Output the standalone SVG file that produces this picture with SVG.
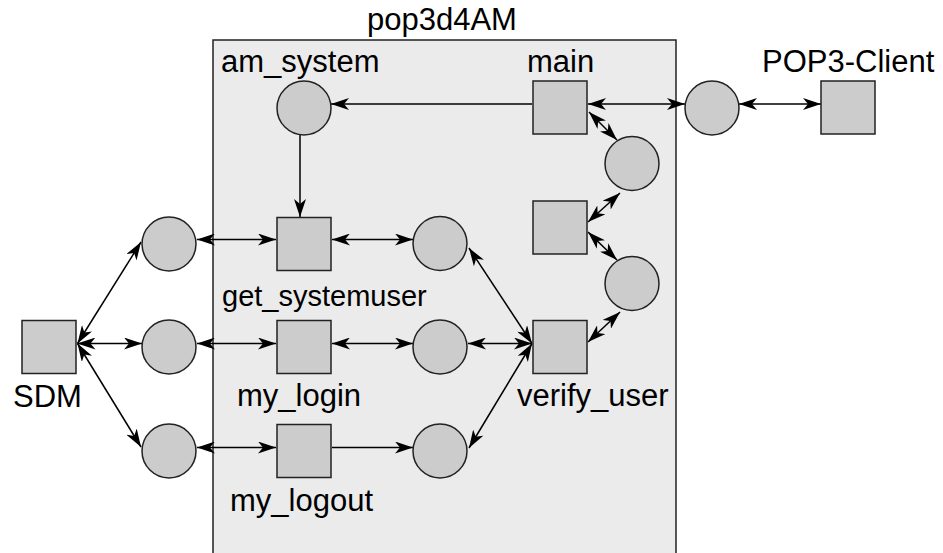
<svg xmlns="http://www.w3.org/2000/svg" width="943" height="553" viewBox="0 0 943 553">
  <style>
    .lbl { font-family: "Liberation Sans", Arial, sans-serif; font-size: 31px; fill: #000; }
    .place { fill: #cccccc; stroke: #222; stroke-width: 1.5; }
    .trans { fill: #cccccc; stroke: #222; stroke-width: 1.5; }
    .arc { fill: none; stroke: #000; stroke-width: 1.5; }
    .both { marker-start: url(#head); marker-end: url(#head); }
    .one { marker-end: url(#head); }
  </style>
  <defs>
    <marker id="head" viewBox="0 0 18 12" refX="18" refY="6" markerWidth="18" markerHeight="12" markerUnits="userSpaceOnUse" orient="auto-start-reverse">
      <path d="M0,0 L18,6 L0,12 L5,6 z" fill="#000"/>
    </marker>
  </defs>

  <rect width="943" height="553" fill="#fff"/>

  <!-- module frame -->
  <g id="pop3d4AM">
    <rect x="213" y="40" width="463" height="530" fill="#ebebeb" stroke="#222" stroke-width="1.5"/>
    <text class="lbl" x="367" y="30">pop3d4AM</text>
  </g>

  <!-- connectors -->
  <g id="connectors">
    <path class="arc one" d="M532,104 L331,104"/>
    <path class="arc one" d="M300,135 L300,217"/>
    <path class="arc both" d="M588,104 L685,104"/>
    <path class="arc both" d="M739,104 L821,104"/>
    <path class="arc both" d="M589,112 L617,140"/>
    <path class="arc both" d="M588,222 L620,193"/>
    <path class="arc both" d="M588,232 L617,260"/>
    <path class="arc both" d="M588,342 L620,312"/>
    <path class="arc both" d="M77.5,343.5 L141,242"/>
    <path class="arc both" d="M77.5,343.5 L142,343.5"/>
    <path class="arc both" d="M77.5,343.5 L141,447"/>
    <path class="arc both" d="M197,239.5 L276,239.5"/>
    <path class="arc both" d="M197,343.5 L276,343.5"/>
    <path class="arc both" d="M197,447.5 L276,447.5"/>
    <path class="arc both" d="M332,239.5 L413,239.5"/>
    <path class="arc both" d="M332,343.5 L413,343.5"/>
    <path class="arc one" d="M332,447.5 L413,447.5"/>
    <path class="arc both" d="M469,248 L532,343.5"/>
    <path class="arc both" d="M468,343.5 L532,343.5"/>
    <path class="arc both" d="M469,448 L532,343.5"/>
  </g>

  <!-- nodes -->
  <g id="am_system">
    <circle class="place" cx="304" cy="108" r="27"/>
    <text class="lbl" x="221" y="72">am_system</text>
  </g>
  <g id="main">
    <rect class="trans" x="533" y="81" width="54" height="53"/>
    <text class="lbl" x="527" y="72">main</text>
  </g>
  <g id="p_client">
    <circle class="place" cx="712" cy="108" r="27"/>
  </g>
  <g id="pop3_client">
    <rect class="trans" x="821" y="81" width="54" height="53"/>
    <text class="lbl" x="762" y="72">POP3-Client</text>
  </g>
  <g id="p_main_a">
    <circle class="place" cx="632" cy="163.5" r="27"/>
  </g>
  <g id="t_mid">
    <rect class="trans" x="533" y="201" width="54" height="53"/>
  </g>
  <g id="p_main_b">
    <circle class="place" cx="632" cy="283.5" r="27"/>
  </g>
  <g id="verify_user">
    <rect class="trans" x="533" y="320.5" width="54" height="53"/>
    <text class="lbl" x="517" y="406">verify_user</text>
  </g>
  <g id="SDM">
    <rect class="trans" x="22" y="320.5" width="54" height="53"/>
    <text class="lbl" x="13" y="407">SDM</text>
  </g>
  <g id="p_sdm_1">
    <circle class="place" cx="169" cy="244" r="27"/>
  </g>
  <g id="p_sdm_2">
    <circle class="place" cx="169" cy="347" r="27"/>
  </g>
  <g id="p_sdm_3">
    <circle class="place" cx="169" cy="451" r="27"/>
  </g>
  <g id="get_systemuser">
    <rect class="trans" x="277" y="217.5" width="54" height="53"/>
    <text class="lbl" x="222" y="306" style="font-size:29px">get_systemuser</text>
  </g>
  <g id="my_login">
    <rect class="trans" x="277" y="320.5" width="54" height="53"/>
    <text class="lbl" x="237" y="406">my_login</text>
  </g>
  <g id="my_logout">
    <rect class="trans" x="277" y="424.5" width="54" height="53"/>
    <text class="lbl" x="230" y="511">my_logout</text>
  </g>
  <g id="p_user_1">
    <circle class="place" cx="440" cy="243.5" r="27"/>
  </g>
  <g id="p_user_2">
    <circle class="place" cx="440" cy="347" r="27"/>
  </g>
  <g id="p_user_3">
    <circle class="place" cx="440" cy="451" r="27"/>
  </g>
</svg>
